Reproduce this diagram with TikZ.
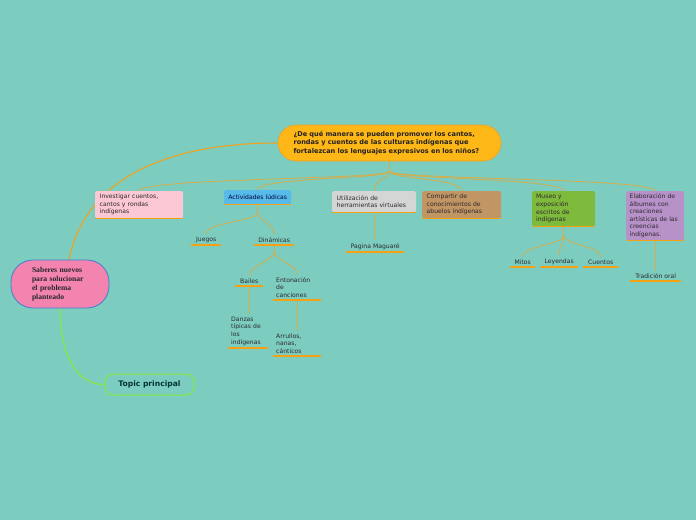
\documentclass[tikz,border=0pt]{standalone}
\usepackage{fontspec}
\setmainfont{DejaVu Sans}
\newfontfamily\rootfont{Liberation Serif}
\usetikzlibrary{positioning, backgrounds}

\definecolor{bgteal}{RGB}{124,205,192}
\definecolor{qorange}{RGB}{253,183,22}
\definecolor{qborder}{RGB}{238,160,40}
\definecolor{rootpink}{RGB}{243,132,176}
\definecolor{rootblue}{RGB}{64,128,206}
\definecolor{topgreen}{RGB}{138,232,58}
\definecolor{linktan}{RGB}{214,172,72}
\definecolor{ulineor}{RGB}{246,160,20}
\definecolor{rootline}{RGB}{240,162,30}
\definecolor{txtdark}{RGB}{45,40,45}
\definecolor{invpink}{RGB}{251,200,212}
\definecolor{actblue}{RGB}{88,186,232}
\definecolor{utigray}{RGB}{212,213,213}
\definecolor{combrown}{RGB}{194,150,100}
\definecolor{musgreen}{RGB}{126,186,60}
\definecolor{elapurple}{RGB}{183,146,201}

\begin{document}
\begin{tikzpicture}[x=1pt, y=-1pt,
    txt/.style  ={font=\fontsize{6.1}{7.6}\selectfont, text=txtdark,
                  inner xsep=3pt, inner ysep=2.5pt},
    box/.style  ={txt, anchor=north west, align=left, rounded corners=1.5pt,
                  inner xsep=4.5pt},
    leaf/.style ={txt, anchor=south west, align=center},
    leafl/.style={txt, anchor=south west, align=left},
    link/.style ={draw=linktan, line width=0.8pt},
    uline/.style={draw=ulineor, line width=1.6pt},
]
% central question
\node[draw=qborder, fill=qorange, rounded corners=18pt, line width=0.6pt,
      minimum width=223, minimum height=36, text width=192, align=left,
      font=\fontsize{6.6}{8.2}\selectfont\bfseries, text=txtdark!80!black]
   (q) at (389.5,143)
   {¿De qué manera se pueden promover los cantos,\\
    rondas y cuentos de las culturas indígenas que\\
    fortalezcan los lenguajes expresivos en los niños?};
% root and topic
\node[draw=rootblue, fill=rootpink, rounded corners=22pt, line width=0.8pt,
      minimum width=98, minimum height=48, text width=56, align=left,
      font=\rootfont\fontsize{7.6}{8.9}\selectfont\bfseries, text=black!85]
   (root) at (60,284)
   {Saberes nuevos\\para solucionar\\el problema\\planteado};
\node[draw=topgreen, fill=bgteal, rounded corners=8pt, line width=1pt,
      minimum width=89, minimum height=21,
      font=\fontsize{7.6}{8}\selectfont\bfseries, text=teal!40!black]
   (top) at (149.5,384.5) {Topic principal};
% first level
\node[box, fill=invpink, text width=79, minimum height=27] (inv) at (95,191)
   {Investigar cuentos,\\cantos y rondas\\indígenas};
\node[box, fill=actblue, text width=63, minimum height=14, align=center,
      inner xsep=2pt, text=blue!25!black] (act) at (224,190) {Actividades lúdicas};
\node[box, fill=utigray, text width=75, minimum height=21] (uti) at (332,191)
   {Utilización de\\herramientas virtuales};
\node[box, fill=combrown, text width=70, minimum height=27] (com) at (422,191)
   {Compartir de\\conocimientos de\\abuelos indígenas};
\node[box, fill=musgreen, text width=55, minimum height=35, inner xsep=4pt]
   (mus) at (532,191)
   {Museo y\\exposición\\escritos de\\indígenas};
\node[box, fill=elapurple, text width=51, minimum height=49, inner xsep=3.5pt]
   (ela) at (626,191)
   {Elaboración de\\álbumes con\\creaciones\\artísticas de las\\creencias\\indígenas.};
% second level
\node[leaf, minimum width=30] (jue) at (191,245) {Juegos};
\node[leaf, minimum width=40] (din) at (254,245) {Dinámicas};
\node[leaf, minimum width=28] (bai) at (235,286) {Bailes};
\node[leafl, text width=42] (ent) at (273,300) {Entonación\\de\\canciones};
\node[leafl, text width=34] (dan) at (228,348) {Danzas\\típicas de\\los\\indígenas};
\node[leafl, text width=42] (arr) at (273,356) {Arrullos,\\nanas,\\cánticos};
\node[leaf, minimum width=58] (pag) at (346,252) {Pagina Maguaré};
\node[leaf, minimum width=25] (mit) at (510,267) {Mitos};
\node[leaf, minimum width=38] (ley) at (540,267) {Leyendas};
\node[leaf, minimum width=35] (cue) at (583,267) {Cuentos};
\node[leaf, minimum width=51] (tra) at (630,281) {Tradición oral};
% underlines
\foreach \n in {inv,act,uti,com,mus,ela,jue,din,bai,ent,dan,arr,pag,mit,ley,cue,tra}
  \draw[uline] (\n.south west) -- (\n.south east);
% connectors
\begin{pgfonlayer}{background}
\fill[bgteal] (0,0) rectangle (696,520);
\draw[draw=rootline, line width=1.1pt] (root.70) to[out=78, in=180] (q.west);
\draw[draw=topgreen, line width=1.1pt] (root.south) to[out=-90, in=180] (top.west);
\coordinate[below=10pt of q] (qfork);
\draw[link] (q) -- (qfork);
\foreach \c in {inv,act,uti,com,mus,ela}
  \draw[link] (qfork) .. controls +(0,8) and +(0,-13) .. (\c.north);
\coordinate[below=8pt of act] (afork);
\draw[link] (act) -- (afork);
\foreach \c in {jue,din}
  \draw[link] (afork) .. controls +(0,9) and +(0,-12) .. (\c.north);
\coordinate[below=7pt of din] (dfork);
\draw[link] (din) -- (dfork);
\foreach \c in {bai,ent}
  \draw[link] (dfork) .. controls +(0,8) and +(0,-10) .. (\c.north);
\coordinate[below=9pt of mus] (mfork);
\draw[link] (mus) -- (mfork);
\foreach \c in {mit,ley,cue}
  \draw[link] (mfork) .. controls +(0,9) and +(0,-11) .. (\c.north);
\draw[link] (bai.south) -- (bai.south |- dan.north);
\draw[link] (ent.south) -- (ent.south |- arr.north);
\draw[link] (uti.south) -- (uti.south |- pag.north);
\draw[link] (ela.south) -- (ela.south |- tra.north);
\end{pgfonlayer}
\end{tikzpicture}
\end{document}
